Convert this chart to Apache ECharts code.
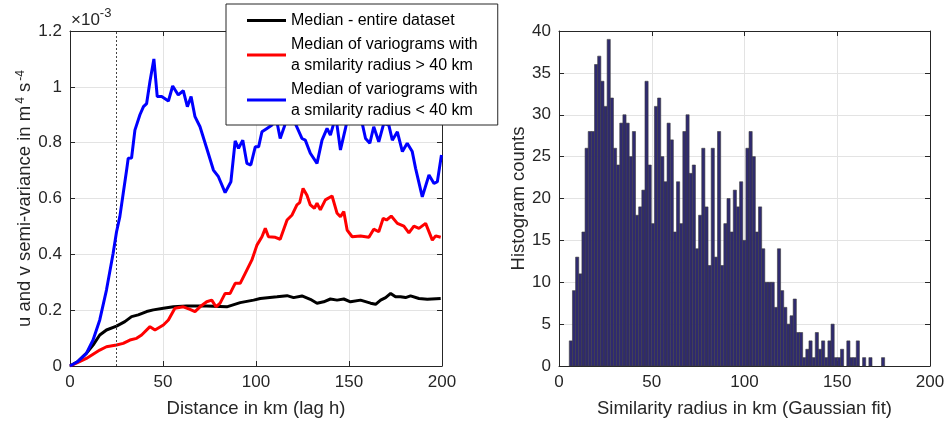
<!DOCTYPE html>
<html>
<head>
<meta charset="utf-8">
<script src="https://cdn.jsdelivr.net/npm/echarts@6/dist/echarts.min.js"></script>
<style>
html,body{margin:0;padding:0;background:#fff;}
#chart{width:951px;height:424px;}
</style>
</head>
<body>
<div id="chart"></div>
<script>
// ---------- Left panel: semi-variance (units of 1e-3 m^4 s^-4) ----------
const blackKm  = [0, 4, 8.8, 12.4, 16, 19.6, 25, 29.5, 33.1, 36.7, 41.2, 44.8, 50.2, 55.6, 62.7, 73.5, 84.3, 91.5, 98.7, 102.3, 111.3, 116.7, 120.2, 124.7, 129.2, 132.8, 136.4, 140, 143.6, 147.2, 150.8, 156.2, 161.6, 164.3, 167, 169.7, 172.4, 175, 177.7, 180.4, 183.1, 187.6, 192.1, 199.3];
const blackVal = [0, 0.015, 0.045, 0.075, 0.111, 0.129, 0.143, 0.159, 0.177, 0.183, 0.195, 0.201, 0.207, 0.212, 0.215, 0.215, 0.212, 0.227, 0.236, 0.242, 0.248, 0.252, 0.245, 0.251, 0.239, 0.225, 0.23, 0.24, 0.236, 0.24, 0.23, 0.236, 0.225, 0.221, 0.236, 0.245, 0.26, 0.248, 0.248, 0.245, 0.251, 0.242, 0.239, 0.242];

const redKm  = [0, 4, 8.8, 16, 19.6, 25, 28.6, 32.2, 35.8, 38.5, 43, 45.7, 50.2, 52.9, 56.4, 60.9, 64.5, 67.2, 69.9, 73.5, 76.2, 78.5, 80.7, 83.4, 86.1, 88.8, 91.5, 94.2, 97.8, 100.5, 103.2, 105, 106.7, 110.4, 113, 116.7, 119.4, 122, 123.5, 125.3, 127.4, 129.2, 131.4, 132.8, 134.6, 137.3, 140.9, 143.6, 145.4, 147.2, 149, 151.7, 156.2, 160.7, 163.3, 166, 168.4, 170.2, 172.7, 176, 179.5, 182.2, 184.9, 187.6, 191.2, 194.8, 196.6, 199.3];
const redVal = [0, 0.012, 0.027, 0.057, 0.069, 0.075, 0.081, 0.093, 0.099, 0.111, 0.141, 0.129, 0.147, 0.165, 0.207, 0.212, 0.203, 0.195, 0.212, 0.23, 0.236, 0.212, 0.225, 0.26, 0.26, 0.296, 0.296, 0.332, 0.38, 0.433, 0.463, 0.493, 0.463, 0.461, 0.454, 0.523, 0.541, 0.577, 0.585, 0.636, 0.612, 0.577, 0.565, 0.583, 0.559, 0.595, 0.609, 0.547, 0.535, 0.553, 0.487, 0.463, 0.466, 0.461, 0.49, 0.481, 0.529, 0.523, 0.537, 0.511, 0.501, 0.477, 0.501, 0.493, 0.511, 0.451, 0.466, 0.461];

const blueKm  = [0, 4, 8.8, 12.4, 16, 19.6, 23.2, 25, 26.8, 28.6, 30.4, 31.3, 33.1, 34.9, 37.6, 39.5, 41.2, 43, 45.1, 46.9, 49.3, 52.9, 55.2, 58.2, 60.9, 63.1, 65.1, 67.2, 69.9, 73.5, 77.1, 79.8, 83.4, 86.5, 88.8, 90.6, 92.9, 95.1, 97.2, 99.6, 101.4, 103.2, 105.9, 108.6, 110.5, 113, 115.2, 117.5, 119.2, 121.1, 124.7, 126.5, 129.2, 132.8, 135.5, 138.2, 140, 141.8, 143.2, 145.4, 148.1, 150.2, 152.8, 155, 157.1, 158.9, 161.2, 163.3, 166, 168.7, 171.4, 173.3, 176, 178.7, 181.3, 184, 185.8, 189.4, 193, 195.7, 197.5, 199.7];
const blueVal = [0, 0.015, 0.045, 0.093, 0.165, 0.272, 0.404, 0.48, 0.535, 0.618, 0.70, 0.744, 0.745, 0.845, 0.90, 0.929, 0.94, 1.02, 1.10, 0.965, 0.965, 0.949, 1.003, 0.971, 0.986, 0.929, 0.965, 0.893, 0.857, 0.78, 0.702, 0.678, 0.621, 0.66, 0.806, 0.78, 0.809, 0.726, 0.72, 0.785, 0.785, 0.839, 0.851, 0.863, 0.90, 0.815, 0.857, 0.91, 0.92, 0.869, 0.815, 0.809, 0.762, 0.726, 0.809, 0.851, 0.827, 0.869, 0.88, 0.774, 0.851, 0.92, 0.95, 0.90, 0.869, 0.815, 0.798, 0.857, 0.803, 0.869, 0.863, 0.809, 0.839, 0.768, 0.798, 0.768, 0.708, 0.606, 0.684, 0.654, 0.66, 0.756];

const cutoffKm = 25;
const legendNames = ['Median - entire dataset', 'Median of variograms with\na smilarity radius > 40 km', 'Median of variograms with\na smilarity radius < 40 km'];

// ---------- Right panel: histogram of similarity radius ----------
const binStart = 5.55;
const binWidth = 1.7;
const histCounts = [3, 9, 13, 11, 16, 26, 28, 28, 36, 37, 34, 31, 39, 32, 26, 24, 29, 30, 29, 25,
  28, 18, 19, 21, 34, 24, 17, 31, 32, 25, 22, 29, 27, 16, 22, 17, 28, 30, 23, 24,
  14, 18, 26, 19, 12, 26, 13, 28, 12, 17, 20, 16, 21, 19, 22, 15, 26, 28, 25, 16,
  19, 14, 10, 10, 10, 7, 14, 9, 7, 5, 6, 8, 4, 4, 1, 2, 3, 1, 4, 2,
  3, 1, 3, 5, 1, 1, 2, 0, 3, 1, 1, 3, 0, 1, 0, 1, 0, 0, 0, 1];

const xTicksKm = [0, 50, 100, 150, 200];

// ---------- build ----------
const FONT = "'Liberation Sans', Arial, Helvetica, sans-serif";
const TXT = '#262626';
const AX = '#262626';
const GRID = '#e3e3e3';
const TICK_FS = 17;
const TITLE_FS = 18.5;

function zip(a, b) { return a.map((v, i) => [v, b[i]]); }

const histData = histCounts.map((c, i) => [binStart + i * binWidth, binStart + (i + 1) * binWidth, c]);

function mainX(gi, name) {
  return {
    type: 'value', gridIndex: gi, min: xTicksKm[0], max: xTicksKm[xTicksKm.length - 1], interval: 50,
    name: name, nameLocation: 'middle', nameGap: 33,
    nameTextStyle: { fontFamily: FONT, fontSize: TITLE_FS, color: TXT },
    axisLine: { show: true, lineStyle: { color: AX, width: 1 } },
    axisTick: { show: true, inside: true, length: 5, lineStyle: { color: AX } },
    axisLabel: { fontFamily: FONT, fontSize: TICK_FS, color: TXT, margin: 8 },
    splitLine: { show: true, lineStyle: { color: GRID, width: 1 } }
  };
}
function topX(gi) {
  return {
    type: 'value', gridIndex: gi, position: 'top', min: 0, max: 200, interval: 50,
    axisLine: { show: true, onZero: false, lineStyle: { color: AX, width: 1 } },
    axisTick: { show: true, inside: true, length: 5, lineStyle: { color: AX } },
    axisLabel: { show: false }, splitLine: { show: false }
  };
}
function sideY(gi, min, max, interval) {
  return {
    type: 'value', gridIndex: gi, position: 'right', min: min, max: max, interval: interval,
    axisLine: { show: true, onZero: false, lineStyle: { color: AX, width: 1 } },
    axisTick: { show: true, inside: true, length: 5, lineStyle: { color: AX } },
    axisLabel: { show: false }, splitLine: { show: false }
  };
}

const chart = echarts.init(document.getElementById('chart'), null, { renderer: 'canvas' });

const option = {
  backgroundColor: '#ffffff',
  animation: false,
  textStyle: { fontFamily: FONT },
  grid: [
    { left: 70, top: 31, right: 509, bottom: 58 },
    { left: 559, top: 31, right: 21, bottom: 58 }
  ],
  legend: {
    data: legendNames,
    orient: 'vertical',
    left: 226, top: 4,
    padding: [6, 20, 4, 21],
    itemGap: 3,
    itemWidth: 39, itemHeight: 3,
    itemTextGap: 5,
    icon: 'rect',
    backgroundColor: '#ffffff',
    borderColor: '#262626', borderWidth: 1,
    textStyle: { fontFamily: FONT, fontSize: 16, color: '#000', lineHeight: 21 },
    z: 20
  },
  xAxis: [
    mainX(0, 'Distance in km (lag h)'),
    topX(0),
    mainX(1, 'Similarity radius in km (Gaussian fit)'),
    topX(1)
  ],
  yAxis: [
    {
      type: 'value', gridIndex: 0, min: 0, max: 1.2, interval: 0.2,
      name: '{n|u and v semi-variance in m}{s|4}{n| s}{s|-4}',
      nameLocation: 'middle', nameGap: 22, nameRotate: 90,
      nameTextStyle: {
        fontFamily: FONT, fontSize: TITLE_FS, color: TXT,
        rich: {
          n: { fontFamily: FONT, fontSize: TITLE_FS, color: TXT, lineHeight: 20, verticalAlign: 'bottom' },
          s: { fontFamily: FONT, fontSize: 12, color: TXT, lineHeight: 20, verticalAlign: 'top', padding: [0, 0, 0, 2] }
        }
      },
      axisLine: { show: true, lineStyle: { color: AX, width: 1 } },
      axisTick: { show: true, inside: true, length: 5, lineStyle: { color: AX } },
      axisLabel: { fontFamily: FONT, fontSize: TICK_FS, color: TXT, margin: 8, formatter: v => String(+v.toFixed(1)) },
      splitLine: { show: true, lineStyle: { color: GRID, width: 1 } }
    },
    sideY(0, 0, 1.2, 0.2),
    {
      type: 'value', gridIndex: 1, min: 0, max: 40, interval: 5,
      name: 'Histogram counts', nameLocation: 'middle', nameGap: 25, nameRotate: 90,
      nameTextStyle: { fontFamily: FONT, fontSize: TITLE_FS, color: TXT },
      axisLine: { show: true, lineStyle: { color: AX, width: 1 } },
      axisTick: { show: true, inside: true, length: 5, lineStyle: { color: AX } },
      axisLabel: { fontFamily: FONT, fontSize: TICK_FS, color: TXT, margin: 8 },
      splitLine: { show: true, lineStyle: { color: GRID, width: 1 } }
    },
    sideY(1, 0, 40, 5)
  ],
  graphic: [
    {
      type: 'text', left: 71, top: 7, z: 10,
      style: {
        text: '{a|×10}{b|-3}',
        rich: {
          a: { fontFamily: FONT, fontSize: 17, fill: TXT, lineHeight: 22, verticalAlign: 'bottom' },
          b: { fontFamily: FONT, fontSize: 13, fill: TXT, lineHeight: 22, verticalAlign: 'top' }
        }
      }
    }
  ],
  series: [
    {
      name: legendNames[0], type: 'line', xAxisIndex: 0, yAxisIndex: 0,
      data: zip(blackKm, blackVal), showSymbol: false, symbol: 'none',
      color: '#000000', lineStyle: { color: '#000000', width: 3 },
      markLine: {
        silent: true, symbol: 'none', label: { show: false },
        lineStyle: { color: '#444', type: [2, 2], width: 1 },
        data: [{ xAxis: cutoffKm }]
      },
      z: 3
    },
    {
      name: legendNames[1], type: 'line', xAxisIndex: 0, yAxisIndex: 0,
      data: zip(redKm, redVal), showSymbol: false, symbol: 'none',
      color: '#ff0000', lineStyle: { color: '#ff0000', width: 3 }, z: 4
    },
    {
      name: legendNames[2], type: 'line', xAxisIndex: 0, yAxisIndex: 0,
      data: zip(blueKm, blueVal), showSymbol: false, symbol: 'none',
      color: '#0000ff', lineStyle: { color: '#0000ff', width: 3 }, z: 5
    },
    {
      name: 'hist', type: 'custom', xAxisIndex: 2, yAxisIndex: 2,
      data: histData,
      encode: { x: [0, 1], y: 2 },
      renderItem: function (params, api) {
        const c = api.value(2);
        if (!c) return null;
        const p0 = api.coord([api.value(0), c]);
        const p1 = api.coord([api.value(1), 0]);
        return {
          type: 'rect',
          shape: { x: p0[0], y: p0[1], width: p1[0] - p0[0], height: p1[1] - p0[1] },
          style: { fill: '#2f2a70', stroke: '#3c3c3c', lineWidth: 0.6 }
        };
      }
    }
  ]
};
chart.setOption(option);
</script>
</body>
</html>
